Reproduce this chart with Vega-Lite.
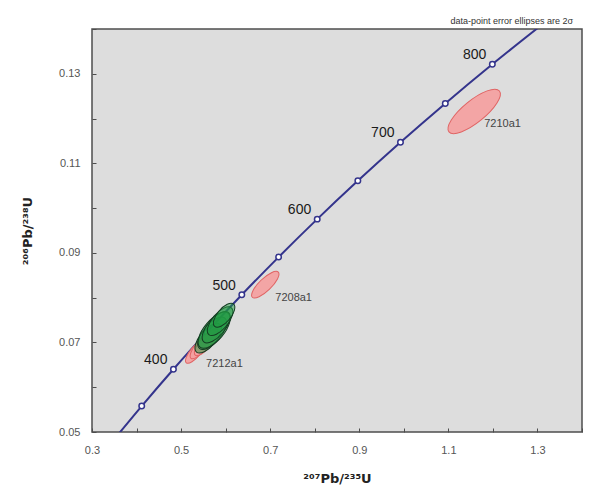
{
  "$schema": "https://vega.github.io/schema/vega-lite/v6.json",
  "autosize": "none",
  "width": 490,
  "height": 403,
  "padding": {"left": 92, "top": 29, "right": 7, "bottom": 54},
  "background": "white",
  "title": {
    "text": "data-point error ellipses are 2σ",
    "anchor": "end",
    "frame": "group",
    "fontSize": 9,
    "fontWeight": "normal",
    "font": "Liberation Sans",
    "color": "#333333",
    "offset": -3,
    "dx": -9
  },
  "config": {
    "view": {"fill": "#dddddd", "stroke": "#4d4d4d", "strokeWidth": 1.5},
    "axis": {
      "labelFont": "Liberation Sans",
      "labelFontSize": 11,
      "labelColor": "#555555",
      "titleFont": "DejaVu Sans",
      "titleFontWeight": "bold",
      "titleFontSize": 13,
      "titleColor": "#222222",
      "tickColor": "#4d4d4d",
      "tickSize": -4,
      "domain": false,
      "grid": false,
      "labelFlush": false,
      "labelOverlap": false
    }
  },
  "datasets": {
    "concordia": [
      {"t": 300, "r207": 0.3437, "r206": 0.04764},
      {"t": 350, "r207": 0.4116, "r206": 0.05579},
      {"t": 400, "r207": 0.4828, "r206": 0.06402},
      {"t": 450, "r207": 0.5577, "r206": 0.07230},
      {"t": 500, "r207": 0.6363, "r206": 0.08065},
      {"t": 550, "r207": 0.7189, "r206": 0.08906},
      {"t": 600, "r207": 0.8056, "r206": 0.09754},
      {"t": 650, "r207": 0.8968, "r206": 0.10609},
      {"t": 700, "r207": 0.9925, "r206": 0.11470},
      {"t": 750, "r207": 1.0931, "r206": 0.12338},
      {"t": 800, "r207": 1.1987, "r206": 0.13213},
      {"t": 850, "r207": 1.3097, "r206": 0.14094}
    ],
    "spots": [
      {"sample": "7210a1", "kind": "red", "r207": 1.158, "r206": 0.1216, "err": 0.0575, "label": "7210a1"},
      {"sample": "7208a1", "kind": "red", "r207": 0.689, "r206": 0.0829, "err": 0.032, "label": "7208a1"},
      {"sample": "7212a1", "kind": "red", "r207": 0.5337, "r206": 0.06805, "err": 0.027, "label": "7212a1"},
      {"sample": "7212b", "kind": "red", "r207": 0.5449, "r206": 0.06917, "err": 0.028, "label": ""},
      {"sample": "7212c", "kind": "red", "r207": 0.5562, "r206": 0.07006, "err": 0.030, "label": ""},
      {"sample": "7212d", "kind": "green", "r207": 0.5607, "r206": 0.07095, "err": 0.032, "label": ""},
      {"sample": "7212e", "kind": "green", "r207": 0.5697, "r206": 0.07206, "err": 0.035, "label": ""},
      {"sample": "7212f", "kind": "green", "r207": 0.5742, "r206": 0.07273, "err": 0.039, "label": ""},
      {"sample": "7212g", "kind": "green", "r207": 0.5787, "r206": 0.07340, "err": 0.034, "label": ""},
      {"sample": "7212h", "kind": "green", "r207": 0.5876, "r206": 0.07474, "err": 0.031, "label": ""},
      {"sample": "7212i", "kind": "green", "r207": 0.5966, "r206": 0.07608, "err": 0.026, "label": ""}
    ]
  },
  "encoding": {
    "x": {
      "field": "r207", "type": "quantitative",
      "scale": {"domain": [0.3, 1.4], "nice": false, "zero": false},
      "axis": {
        "title": "²⁰⁷Pb/²³⁵U",
        "values": [0.3, 0.4, 0.5, 0.6, 0.7, 0.8, 0.9, 1.0, 1.1, 1.2, 1.3, 1.4],
        "labelExpr": "round(datum.value*10) % 2 == 1 ? format(datum.value, '.1f') : ''",
        "labelPadding": 16,
        "titlePadding": 17
      }
    },
    "y": {
      "field": "r206", "type": "quantitative",
      "scale": {"domain": [0.05, 0.14], "nice": false, "zero": false},
      "axis": {
        "title": "²⁰⁶Pb/²³⁸U",
        "values": [0.05, 0.06, 0.07, 0.08, 0.09, 0.10, 0.11, 0.12, 0.13, 0.14],
        "labelExpr": "round(datum.value*100) % 2 == 1 ? format(datum.value, '.2f') : ''",
        "labelPadding": 16,
        "titlePadding": 24
      }
    }
  },
  "layer": [
    {
      "data": {"name": "concordia"},
      "mark": {"type": "line", "clip": true, "color": "#34348c", "strokeWidth": 2, "interpolate": "monotone"},
      "encoding": {"order": {"field": "t"}}
    },
    {
      "data": {"name": "concordia"},
      "transform": [{"filter": "datum.t >= 350 && datum.t <= 800"}],
      "mark": {"type": "point", "filled": true, "fill": "white", "stroke": "#34348c", "strokeWidth": 1.5, "size": 30, "opacity": 1}
    },
    {
      "data": {"name": "spots"},
      "transform": [{"filter": "datum.kind == 'red'"}],
      "mark": {"type": "point", "filled": true, "shape": "M -1 0 A 1 0.34 0 1 1 1 0 A 1 0.34 0 1 1 -1 0 Z", "fill": "#f4a0a0", "fillOpacity": 0.92, "stroke": "#e06464", "strokeWidth": 1, "opacity": 1},
      "encoding": {
        "size": {"field": "err", "type": "quantitative", "scale": {"type": "pow", "exponent": 2, "domain": [0, 0.06], "range": [0, 4597]}, "legend": null},
        "angle": {"condition": [{"test": "datum.sample == '7210a1'", "value": 321}, {"test": "datum.sample == '7208a1'", "value": 316}], "value": 310}
      }
    },
    {
      "data": {"name": "spots"},
      "transform": [{"filter": "datum.kind == 'green'"}],
      "mark": {"type": "point", "filled": true, "shape": "M -1 0 A 1 0.45 0 1 1 1 0 A 1 0.45 0 1 1 -1 0 Z", "fill": "#1f9a42", "fillOpacity": 0.5, "stroke": "#143d22", "strokeWidth": 1, "opacity": 1},
      "encoding": {
        "size": {"field": "err", "type": "quantitative", "legend": null},
        "angle": {"value": 310}
      }
    },
    {
      "data": {"name": "concordia"},
      "transform": [{"filter": "datum.t >= 400 && datum.t <= 800 && datum.t % 100 == 0"}],
      "mark": {"type": "text", "align": "right", "baseline": "middle", "dx": -6, "dy": -9, "fontSize": 14, "font": "Liberation Sans", "color": "#1a1a1a"},
      "encoding": {"text": {"field": "t", "type": "quantitative"}}
    },
    {
      "data": {"name": "spots"},
      "transform": [{"filter": "datum.label != ''"}],
      "mark": {"type": "text", "align": "left", "baseline": "middle", "dx": 10, "dy": 13, "fontSize": 11, "font": "Liberation Sans", "color": "#444444"},
      "encoding": {"text": {"field": "label", "type": "nominal"}}
    }
  ]
}
